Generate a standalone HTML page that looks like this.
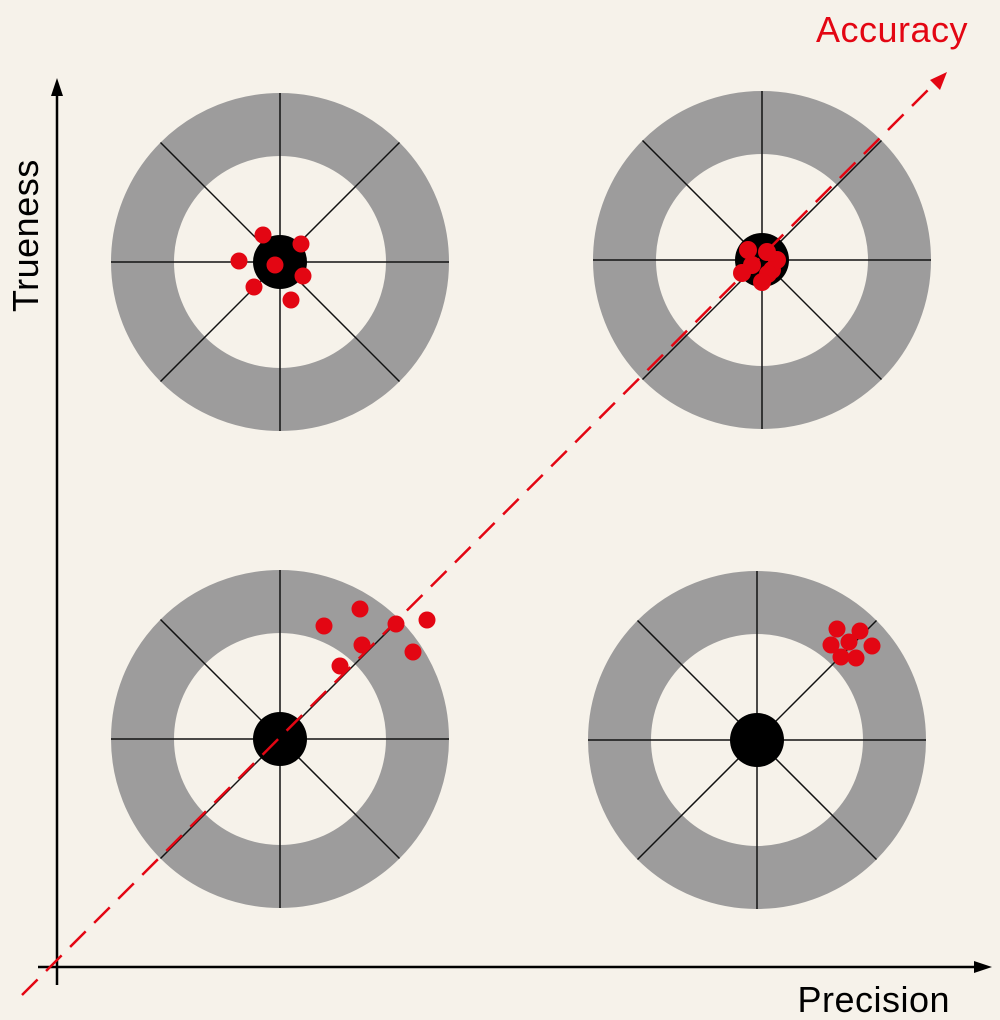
<!DOCTYPE html>
<html><head><meta charset="utf-8"><style>
html,body{margin:0;padding:0;background:#f6f2ea;}
svg{display:block;}
text{font-family:"Liberation Sans",sans-serif;}
</style></head><body>
<svg width="1000" height="1020" viewBox="0 0 1000 1020" xmlns="http://www.w3.org/2000/svg">
<rect width="1000" height="1020" fill="#f6f2ea"/>
<defs>
<g id="t">
<circle r="137.5" fill="none" stroke="#9d9c9c" stroke-width="63"/>
<g stroke="#111" stroke-width="1.5">
<line x1="-169" y1="0" x2="169" y2="0"/>
<line x1="0" y1="-169" x2="0" y2="169"/>
<line x1="-119.5" y1="-119.5" x2="119.5" y2="119.5"/>
<line x1="-119.5" y1="119.5" x2="119.5" y2="-119.5"/>
</g>
<circle r="27" fill="#000"/>
</g>
</defs>
<use href="#t" x="280" y="262"/>
<use href="#t" x="762" y="260"/>
<use href="#t" x="280" y="739"/>
<use href="#t" x="757" y="740"/>
<g stroke="#000" stroke-width="2.5">
<line x1="57" y1="985" x2="57" y2="92"/>
<line x1="38" y1="967" x2="978" y2="967"/>
</g>
<polygon points="57,78 51,96 63,96" fill="#000"/>
<polygon points="992,967 974,961 974,973" fill="#000"/>
<line x1="22" y1="995" x2="938" y2="80" stroke="#e30613" stroke-width="2.5" stroke-dasharray="22,12"/>
<polygon points="947,72 930,80 940,90" fill="#e30613"/>
<g fill="#e30613">
<circle cx="263" cy="235" r="8.5"/><circle cx="301" cy="244" r="8.5"/><circle cx="239" cy="261" r="8.5"/>
<circle cx="275" cy="265" r="8.5"/><circle cx="303" cy="276" r="8.5"/><circle cx="254" cy="287" r="8.5"/><circle cx="291" cy="300" r="8.5"/>
<circle cx="748" cy="250" r="9"/><circle cx="767" cy="252" r="9"/><circle cx="777" cy="260" r="9"/>
<circle cx="752" cy="265" r="9"/><circle cx="742" cy="273" r="9"/><circle cx="772" cy="270" r="9"/>
<circle cx="768" cy="274" r="9"/><circle cx="762" cy="282" r="9"/>
<circle cx="837" cy="629" r="8.5"/><circle cx="860" cy="631" r="8.5"/><circle cx="831" cy="645" r="8.5"/>
<circle cx="849" cy="642" r="8.5"/><circle cx="872" cy="646" r="8.5"/><circle cx="841" cy="657" r="8.5"/><circle cx="856" cy="658" r="8.5"/>
<circle cx="324" cy="626" r="8.5"/><circle cx="360" cy="609" r="8.5"/><circle cx="396" cy="624" r="8.5"/>
<circle cx="427" cy="620" r="8.5"/><circle cx="362" cy="645" r="8.5"/><circle cx="413" cy="652" r="8.5"/><circle cx="340" cy="666" r="8.5"/>
</g>
<text x="968" y="42" font-size="36" letter-spacing="0.5" fill="#e30613" text-anchor="end">Accuracy</text>
<text x="950" y="1012" font-size="36" letter-spacing="0.5" fill="#000" text-anchor="end">Precision</text>
<text transform="translate(38,312) rotate(-90)" font-size="36" letter-spacing="0.5" fill="#000">Trueness</text>
</svg>
</body></html>
